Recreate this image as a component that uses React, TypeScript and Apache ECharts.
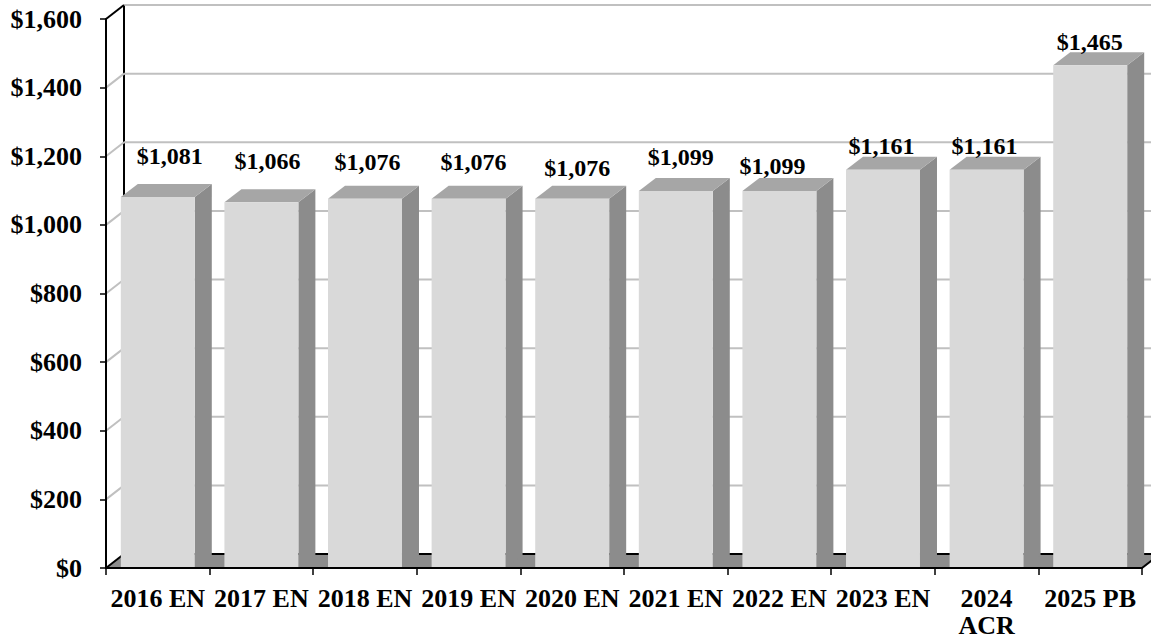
import React, { useEffect, useRef } from "react";
import * as echarts from "echarts";

const CATEGORIES = ["2016 EN", "2017 EN", "2018 EN", "2019 EN", "2020 EN", "2021 EN", "2022 EN", "2023 EN", "2024 ACR", "2025 PB"];
const VALUES = [1081, 1066, 1076, 1076, 1076, 1099, 1099, 1161, 1161, 1465];
const Y_TICKS = [0, 200, 400, 600, 800, 1000, 1200, 1400, 1600];
// label placement nudges (px) to mimic the reference's irregular label positions
const LABEL_NUDGE_X = [12, 6, 2.5, 5, 5, 5, -7, -1.5, -2, -0.5];
const LABEL_NUDGE_Y = [18, 18, 13, 13, 7, 10, 1.5, 0, 0, 0];

const WALL_DX = 18;
const WALL_DY = -14;
const BAR_DX = 17;
const BAR_DY = -13;
const FONT = '"Liberation Serif", "Times New Roman", serif';

function fmt(v: number) {
  return "$" + v.toLocaleString("en-US");
}

export default function App() {
  const ref = useRef<HTMLDivElement>(null);
  useEffect(() => {
    document.body.style.margin = "0";
    const chart = echarts.init(ref.current!, null, { renderer: "svg" });
    const option: any = {
      animation: false,
      backgroundColor: "#ffffff",
      grid: { left: 106, right: 9, top: 19, bottom: 75 },
      xAxis: {
        type: "category",
        data: CATEGORIES,
        z: 10,
        axisLine: { show: true, lineStyle: { color: "#000", width: 2 } },
        axisTick: { show: true, length: 7, lineStyle: { color: "#000", width: 1.5 } },
        axisLabel: {
          color: "#000",
          fontFamily: FONT,
          fontWeight: "bold",
          fontSize: 26,
          lineHeight: 27,
          margin: 17,
          interval: 0,
          formatter: (v: string) => (v.length > 7 ? v.replace(" ", "\n") : v),
        },
        splitLine: { show: false },
      },
      yAxis: {
        type: "value",
        min: 0,
        max: 1600,
        interval: 200,
        z: 10,
        axisLine: { show: true, lineStyle: { color: "#000", width: 2 } },
        axisTick: { show: true, length: 6, lineStyle: { color: "#000", width: 1.5 } },
        axisLabel: {
          color: "#000",
          fontFamily: FONT,
          fontWeight: "bold",
          fontSize: 26,
          margin: 24,
          formatter: (v: number) => fmt(v),
        },
        splitLine: { show: false },
      },
      series: [
        {
          type: "custom",
          name: "walls",
          z: 1,
          silent: true,
          data: Y_TICKS.map((t) => [0, t]),
          renderItem: (params: any, api: any) => {
            const cs = params.coordSys;
            const v = api.value(1);
            const y = api.coord([0, v])[1];
            const gx = cs.x;
            const gw = cs.width;
            const isEdge = v === 0;
            const isTop = v === Y_TICKS[Y_TICKS.length - 1];
            const children: any[] = [];
            if (isEdge) {
              children.push({
                type: "polygon",
                shape: {
                  points: [
                    [gx, y],
                    [gx + WALL_DX, y + WALL_DY],
                    [gx + gw + WALL_DX, y + WALL_DY],
                    [gx + gw, y],
                  ],
                },
                style: { fill: "#8c8c8c" },
              });
              const yTop = api.coord([0, Y_TICKS[Y_TICKS.length - 1]])[1];
              children.push({
                type: "line",
                shape: { x1: gx + WALL_DX, y1: yTop + WALL_DY, x2: gx + WALL_DX, y2: y + WALL_DY },
                style: { stroke: "#000", lineWidth: 2 },
              });
              children.push({
                type: "line",
                shape: { x1: gx + gw, y1: y, x2: gx + gw + WALL_DX, y2: y + WALL_DY },
                style: { stroke: "#000", lineWidth: 2 },
              });
            }
            children.push({
              type: "line",
              shape: { x1: gx + WALL_DX, y1: y + WALL_DY, x2: gx + gw + WALL_DX, y2: y + WALL_DY },
              style: { stroke: isEdge ? "#000" : "#c0c0c0", lineWidth: 2 },
            });
            children.push({
              type: "line",
              shape: { x1: gx, y1: y, x2: gx + WALL_DX, y2: y + WALL_DY },
              style: { stroke: isEdge || isTop ? "#000" : "#c0c0c0", lineWidth: 2 },
            });
            return { type: "group", children };
          },
        },
        {
          type: "custom",
          name: "bars",
          z: 2,
          data: VALUES.map((v, i) => [i, v]),
          renderItem: (params: any, api: any) => {
            const i = api.value(0);
            const v = api.value(1);
            const top = api.coord([i, v]);
            const bottom = api.coord([i, 0]);
            const band = api.size([1, 0])[0];
            const w = band * 0.714;
            const l = top[0] - w / 2;
            const r = top[0] + w / 2;
            const t = top[1];
            const b = bottom[1];
            const idx = params.dataIndex;
            return {
              type: "group",
              children: [
                {
                  type: "polygon",
                  shape: { points: [[r, t], [r + BAR_DX, t + BAR_DY], [r + BAR_DX, b + BAR_DY], [r, b]] },
                  style: { fill: "#8c8c8c" },
                },
                {
                  type: "polygon",
                  shape: { points: [[l, t], [l + BAR_DX, t + BAR_DY], [r + BAR_DX, t + BAR_DY], [r, t]] },
                  style: { fill: "#a6a6a6" },
                },
                {
                  type: "rect",
                  shape: { x: l, y: t, width: w, height: b - t },
                  style: { fill: "#d9d9d9" },
                },
                {
                  type: "text",
                  x: top[0] + LABEL_NUDGE_X[idx],
                  y: t + BAR_DY - 10.5 - LABEL_NUDGE_Y[idx],
                  style: {
                    text: fmt(v),
                    fill: "#000",
                    font: `bold 24px ${FONT}`,
                    align: "center",
                    verticalAlign: "middle",
                  },
                },
              ],
            };
          },
        },
      ],
    };
    chart.setOption(option);
    return () => chart.dispose();
  }, []);
  return <div ref={ref} style={{ width: 1151, height: 643 }} />;
}
